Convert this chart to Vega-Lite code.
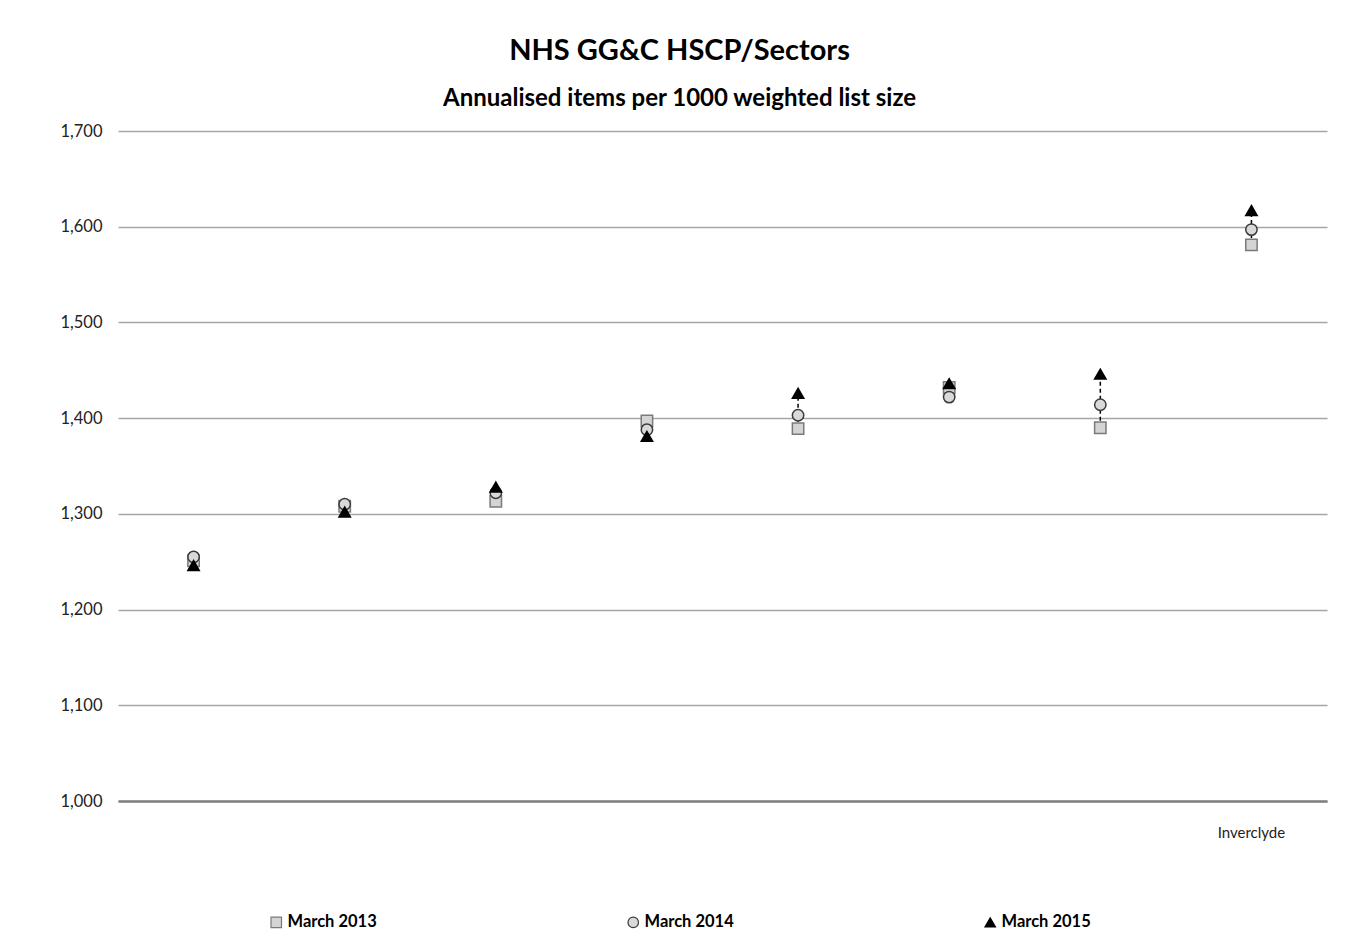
{
  "$schema": "https://vega.github.io/schema/vega-lite/v6.json",
  "width": 1209,
  "height": 670,
  "autosize": "none",
  "padding": {"left": 118, "top": 131, "right": 29, "bottom": 151},
  "background": "white",
  "title": {
    "text": "NHS GG&C HSCP/Sectors",
    "subtitle": "Annualised items per 1000 weighted list size",
    "anchor": "middle",
    "frame": "group",
    "dx": -43,
    "offset": 12,
    "font": "Lato",
    "fontSize": 29,
    "fontWeight": "bold",
    "color": "#000000",
    "subtitleFont": "Lato",
    "subtitleFontSize": 24,
    "subtitleFontWeight": "bold",
    "subtitleColor": "#000000",
    "subtitlePadding": 21
  },
  "data": {
    "values": [
      {"sector": "East Renfrewshire", "series": "March 2013", "value": 1251},
      {"sector": "East Renfrewshire", "series": "March 2014", "value": 1255},
      {"sector": "East Renfrewshire", "series": "March 2015", "value": 1246},
      {"sector": "East Dunbartonshire", "series": "March 2013", "value": 1308},
      {"sector": "East Dunbartonshire", "series": "March 2014", "value": 1310},
      {"sector": "East Dunbartonshire", "series": "March 2015", "value": 1302},
      {"sector": "South", "series": "March 2013", "value": 1313},
      {"sector": "South", "series": "March 2014", "value": 1322},
      {"sector": "South", "series": "March 2015", "value": 1328},
      {"sector": "North West", "series": "March 2013", "value": 1397},
      {"sector": "North West", "series": "March 2014", "value": 1388},
      {"sector": "North West", "series": "March 2015", "value": 1381},
      {"sector": "North East", "series": "March 2013", "value": 1389},
      {"sector": "North East", "series": "March 2014", "value": 1403},
      {"sector": "North East", "series": "March 2015", "value": 1426},
      {"sector": "Renfrewshire", "series": "March 2013", "value": 1432},
      {"sector": "Renfrewshire", "series": "March 2014", "value": 1422},
      {"sector": "Renfrewshire", "series": "March 2015", "value": 1436},
      {"sector": "West Dunbartonshire", "series": "March 2013", "value": 1390},
      {"sector": "West Dunbartonshire", "series": "March 2014", "value": 1414},
      {"sector": "West Dunbartonshire", "series": "March 2015", "value": 1446},
      {"sector": "Inverclyde", "series": "March 2013", "value": 1581},
      {"sector": "Inverclyde", "series": "March 2014", "value": 1597},
      {"sector": "Inverclyde", "series": "March 2015", "value": 1617}
    ]
  },
  "encoding": {
    "x": {
      "field": "sector",
      "type": "nominal",
      "sort": null,
      "scale": {"type": "band", "paddingInner": 0, "paddingOuter": 0},
      "axis": {
        "title": null,
        "labelExpr": "datum.value == 'Inverclyde' ? datum.value : ''",
        "labelAngle": 0,
        "labelFont": "Lato",
        "labelFontSize": 15,
        "labelColor": "#222222",
        "labelPadding": 24,
        "ticks": false,
        "domain": true,
        "domainColor": "#7f7f7f",
        "domainWidth": 2.5,
        "grid": false
      }
    }
  },
  "layer": [
    {
      "mark": {"type": "rule", "strokeDash": [4, 3], "strokeWidth": 1.5, "color": "#000000"},
      "encoding": {
        "y": {"aggregate": "min", "field": "value", "type": "quantitative", "scale": {"domain": [1000, 1700], "nice": false, "zero": false}},
        "y2": {"aggregate": "max", "field": "value"}
      }
    },
    {
      "mark": {"type": "point", "filled": true, "size": 130, "strokeWidth": 1.5, "opacity": 1},
      "encoding": {
        "y": {
          "field": "value",
          "type": "quantitative",
          "scale": {"domain": [1000, 1700], "nice": false, "zero": false},
          "axis": {
            "title": null,
            "values": [1000, 1100, 1200, 1300, 1400, 1500, 1600, 1700],
            "format": ",d",
            "labelFont": "Lato",
            "labelFontSize": 16.5,
            "labelColor": "#222222",
            "labelPadding": 16,
            "ticks": false,
            "domain": false,
            "grid": true,
            "gridColor": "#a6a6a6",
            "gridWidth": 1.5
          }
        },
        "shape": {
          "field": "series",
          "type": "nominal",
          "scale": {"domain": ["March 2013", "March 2014", "March 2015"], "range": ["square", "circle", "triangle-up"]},
          "legend": {"title": null}
        },
        "fill": {
          "field": "series",
          "type": "nominal",
          "scale": {"domain": ["March 2013", "March 2014", "March 2015"], "range": ["#d4d4d4", "#d9d9d9", "#000000"]},
          "legend": {"title": null}
        },
        "stroke": {
          "field": "series",
          "type": "nominal",
          "scale": {"domain": ["March 2013", "March 2014", "March 2015"], "range": ["#7a7a7a", "#3a3a3a", "#000000"]},
          "legend": {"title": null}
        }
      }
    }
  ],
  "config": {
    "view": {"stroke": null},
    "legend": {
      "orient": "none",
      "legendX": 150,
      "legendY": 783,
      "direction": "horizontal",
      "columns": 3,
      "columnPadding": 248,
      "labelFont": "Lato",
      "labelFontSize": 16.5,
      "labelFontWeight": "bold",
      "labelColor": "#000000",
      "labelOffset": 3,
      "symbolSize": 110,
      "symbolStrokeWidth": 1.2
    }
  }
}
